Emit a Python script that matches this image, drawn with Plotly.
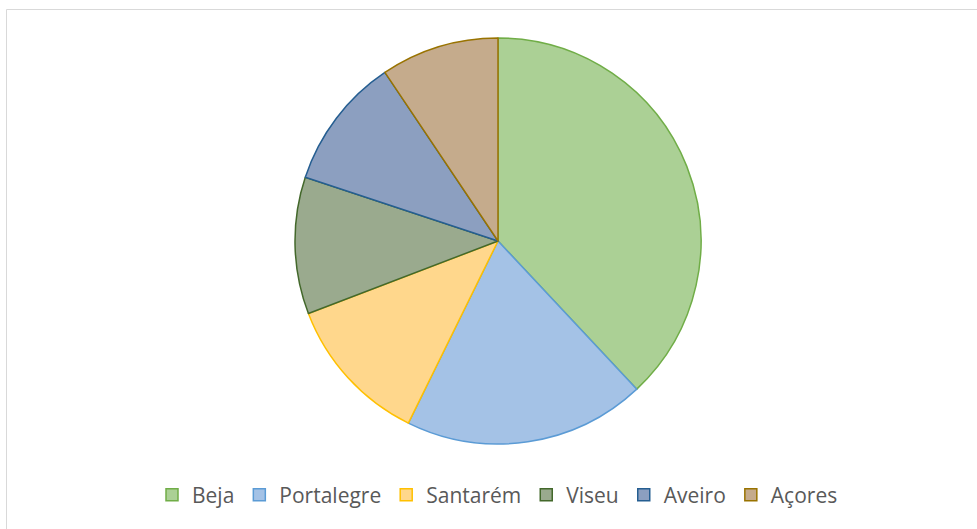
import plotly.graph_objects as go

labels = ["Beja", "Portalegre", "Santarém", "Viseu", "Aveiro", "Açores"]
values = [38.0, 19.25, 11.9, 10.9, 10.5, 9.4]
fill_colors = ["#ABD095", "#A4C2E6", "#FFD78C", "#9AAA8E", "#8C9FC0", "#C5AB8C"]
line_colors = ["#70AD47", "#5B9BD5", "#FFC000", "#43682B", "#255E91", "#997300"]

W, H = 977, 529
L, R, T, B = 295, 276, 38, 85
pw, ph = W - L - R, H - T - B

def px_x(x):
    return (x - L) / pw

def px_y(y):
    return (H - B - y) / ph

fig = go.Figure(go.Pie(
    labels=labels, values=values, sort=False, direction="clockwise", rotation=0,
    marker=dict(colors=fill_colors, line=dict(color=line_colors, width=1.5)),
    textinfo="none", hoverinfo="label+value",
))

fig.update_layout(
    width=W, height=H,
    margin=dict(l=L, r=R, t=T, b=B, autoexpand=False),
    paper_bgcolor="white", plot_bgcolor="white",
    font=dict(family="'Open Sans', sans-serif", color="#595959", size=21),
    legend=dict(orientation="h", x=px_x(152), xanchor="left", y=px_y(495), yanchor="middle",
                font=dict(size=21, color="#595959"), itemwidth=30, tracegroupgap=0),
    shapes=[dict(type="rect", xref="paper", yref="paper",
                 x0=px_x(6.5), y0=px_y(600), x1=px_x(1100), y1=px_y(9.5),
                 line=dict(color="#D9D9D9", width=1), fillcolor="rgba(0,0,0,0)", layer="below")],
)

fig.write_html("out.html")
